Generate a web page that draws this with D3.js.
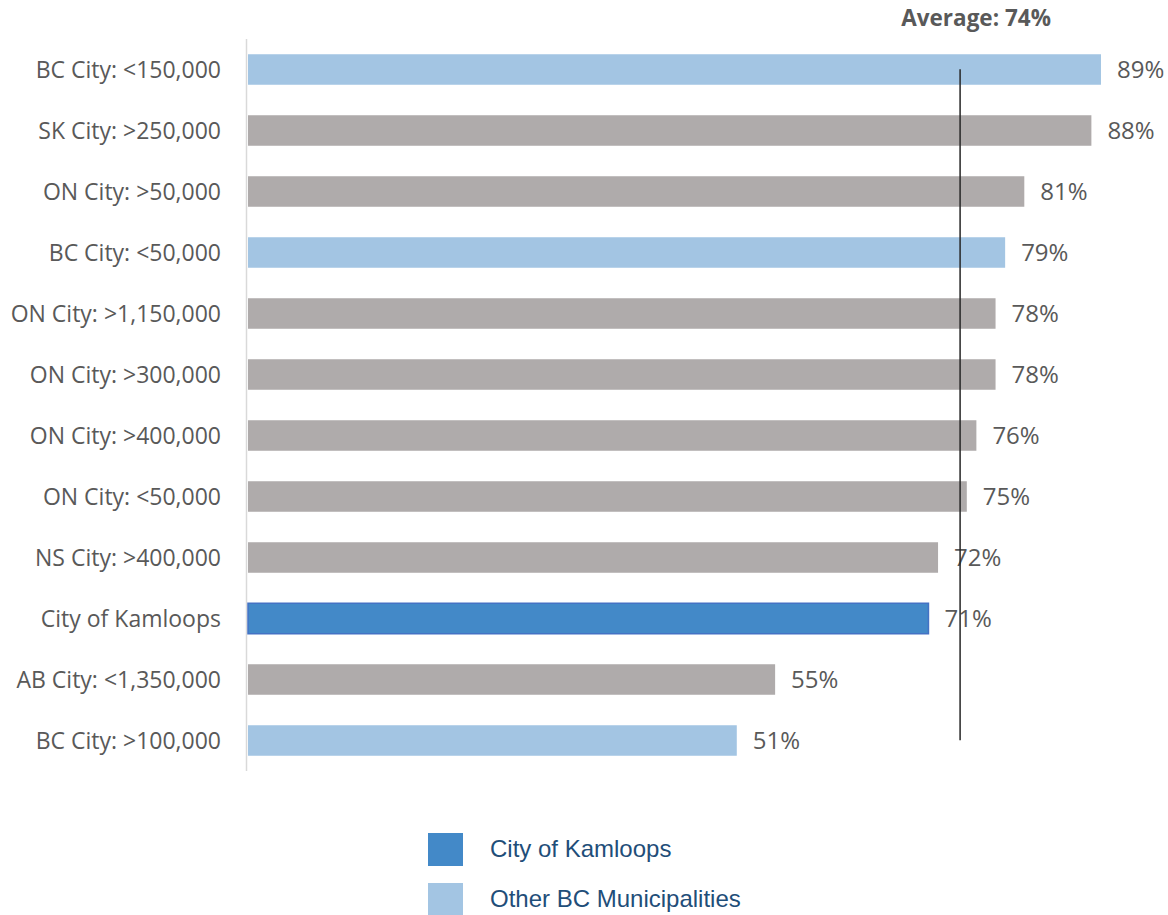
<!DOCTYPE html>
<html>
<head>
<meta charset="utf-8">
<script src="https://cdnjs.cloudflare.com/ajax/libs/d3/7.8.5/d3.min.js"></script>
<style>
	body { margin: 0; background: #fff; }
</style>
</head>
<body>
<svg id="chart" width="1168" height="915"></svg>
<script>
// categories, top to bottom
var categories = [
	"BC City: <150,000", "SK City: >250,000", "ON City: >50,000", "BC City: <50,000",
	"ON City: >1,150,000", "ON City: >300,000", "ON City: >400,000", "ON City: <50,000",
	"NS City: >400,000", "City of Kamloops", "AB City: <1,350,000", "BC City: >100,000"
];
var values = [0.89, 0.88, 0.81, 0.79, 0.78, 0.78, 0.76, 0.75, 0.72, 0.71, 0.55, 0.51];
// group: "bc" other BC municipality, "kam" Kamloops, "other" everyone else
var groups = ["bc", "other", "other", "bc", "other", "other", "other", "other", "other", "kam", "other", "bc"];
var average = 0.743;
var averageLabel = "Average: 74%";
var legendLabels = ["City of Kamloops", "Other BC Municipalities"];
var legendGroups = ["kam", "bc"];

var colors = { kam: "#4389c8", bc: "#a3c5e3", other: "#afabab" };
var labelFont = "'Open Sans', 'Noto Sans', sans-serif";

var svg = d3.select("#chart");

var x = d3.scaleLinear().domain([0, 1]).range([248, 248 + 958.4]);
var y = d3.scaleBand()
	.domain(categories)
	.range([39, 771])
	.paddingInner(0.5)
	.paddingOuter(0.25);

// vertical axis line
svg.append("line")
	.attr("x1", 246.5).attr("x2", 246.5)
	.attr("y1", 39).attr("y2", 771)
	.attr("stroke", "#d9d9d9")
	.attr("stroke-width", 1.5);

// category labels
svg.append("g")
	.selectAll("text")
	.data(categories)
	.join("text")
	.attr("x", 221)
	.attr("y", function (d) { return y(d) + y.bandwidth() / 2; })
	.attr("dy", "0.35em")
	.attr("text-anchor", "end")
	.attr("font-family", labelFont)
	.attr("font-size", "23px")
	.attr("fill", "#595959")
	.text(function (d) { return d; });

// bars
svg.append("g")
	.selectAll("rect")
	.data(values)
	.join("rect")
	.attr("x", x(0))
	.attr("y", function (d, i) { return y(categories[i]); })
	.attr("width", function (d) { return x(d) - x(0); })
	.attr("height", y.bandwidth())
	.attr("fill", function (d, i) { return colors[groups[i]]; })
	.attr("stroke", function (d, i) { return groups[i] === "kam" ? "#4472c4" : "none"; })
	.attr("stroke-width", 1.5);

// value labels
svg.append("g")
	.selectAll("text")
	.data(values)
	.join("text")
	.attr("x", function (d) { return x(d) + 16; })
	.attr("y", function (d, i) { return y(categories[i]) + y.bandwidth() / 2; })
	.attr("dy", "0.35em")
	.attr("font-family", labelFont)
	.attr("font-size", "24px")
	.attr("fill", "#595959")
	.text(function (d) { return Math.round(d * 100) + "%"; });

// average line
svg.append("line")
	.attr("x1", x(average)).attr("x2", x(average))
	.attr("y1", y(categories[0]) + 15)
	.attr("y2", y(categories[categories.length - 1]) + 15)
	.attr("stroke", "#262626")
	.attr("stroke-width", 1.5);

svg.append("text")
	.attr("x", x(average) + 16)
	.attr("y", 26)
	.attr("text-anchor", "middle")
	.attr("font-family", labelFont)
	.attr("font-weight", "bold")
	.attr("font-size", "22.5px")
	.attr("fill", "#595959")
	.text(averageLabel);

// legend
var legend = svg.append("g").attr("transform", "translate(428,833)");
legendGroups.forEach(function (g, i) {
	legend.append("rect")
		.attr("x", 0)
		.attr("y", i * 50)
		.attr("width", 35)
		.attr("height", 33)
		.attr("fill", colors[g]);
	legend.append("text")
		.attr("x", 62)
		.attr("y", i * 50 + 16)
		.attr("dy", "0.35em")
		.attr("font-family", "'Liberation Sans', Arial, sans-serif")
		.attr("font-size", "24px")
		.attr("fill", "#1f4e79")
		.text(legendLabels[i]);
});
</script>
</body>
</html>
